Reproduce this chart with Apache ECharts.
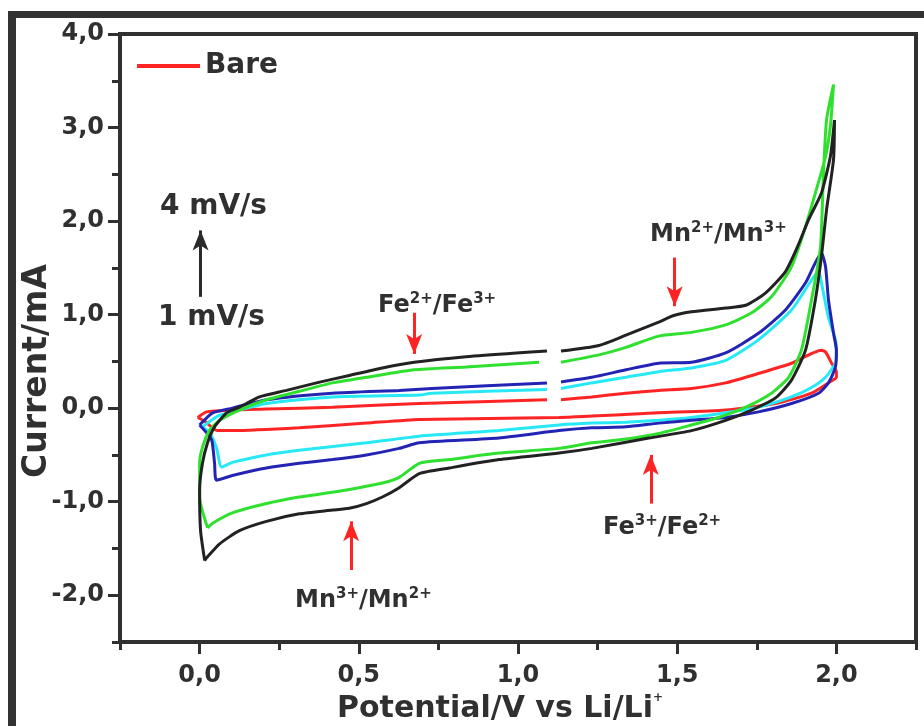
<!DOCTYPE html>
<html>
<head>
<meta charset="utf-8">
<script src="https://cdn.jsdelivr.net/npm/echarts@6/dist/echarts.min.js"></script>
<style>
  html, body { margin: 0; padding: 0; background: #ffffff; }
  #chart { width: 924px; height: 726px; }
</style>
</head>
<body>
<div id="chart"></div>
<script>
// Axis ticks (V vs Li/Li+, mA)
const xMajor = [0, 0.5, 1, 1.5, 2];
const xMinor = [-0.25, 0.25, 0.75, 1.25, 1.75, 2.25];
const yMajor = [-2, -1, 0, 1, 2, 3, 4];
const yMinor = [-2.5, -1.5, -0.5, 0.5, 1.5, 2.5, 3.5];

// Break in the recorded anodic sweep
const GAP = '-';

// Cyclic voltammograms, [potential V, current mA], traced around each loop
const bare = [
  [-0.006, -0.10], [0.022, -0.04], [0.103, -0.02], [0.210, -0.01], [0.417, 0.01],
  [0.690, 0.05], [1.091, 0.09], [1.11, GAP], [1.135, 0.09], [1.232, 0.12],
  [1.339, 0.16], [1.442, 0.19], [1.545, 0.21], [1.652, 0.27], [1.755, 0.37],
  [1.859, 0.48], [1.953, 0.62], [1.966, 0.60], [1.985, 0.48], [2.0, 0.39],
  [2.0, 0.33], [1.984, 0.29], [1.922, 0.16], [1.809, 0.05], [1.652, -0.02],
  [1.442, -0.05], [1.129, -0.10], [0.690, -0.12], [0.524, -0.16], [0.313, -0.21],
  [0.103, -0.24], [0.056, -0.24], [0.016, -0.14], [-0.006, -0.10]
];
const rate1 = [
  [0.009, -0.20], [0.060, -0.08], [0.125, -0.02], [0.210, 0.05], [0.417, 0.12],
  [0.690, 0.14], [0.730, 0.16], [1.091, 0.20], [1.11, GAP], [1.135, 0.21],
  [1.232, 0.27], [1.339, 0.33], [1.442, 0.39], [1.545, 0.43], [1.652, 0.51],
  [1.755, 0.73], [1.859, 1.05], [1.922, 1.37], [1.944, 1.46], [1.953, 1.34],
  [1.975, 0.97], [1.997, 0.73], [2.0, 0.59], [1.997, 0.48], [1.966, 0.33],
  [1.922, 0.22], [1.859, 0.12], [1.755, 0.01], [1.652, -0.05], [1.545, -0.10],
  [1.442, -0.13], [1.339, -0.15], [1.232, -0.16], [1.129, -0.18], [0.940, -0.24],
  [0.690, -0.30], [0.524, -0.37], [0.313, -0.45], [0.210, -0.50], [0.103, -0.58],
  [0.069, -0.63], [0.053, -0.42], [0.031, -0.26], [0.009, -0.20]
];
const rate2 = [
  [0.0, -0.18], [0.041, -0.05], [0.103, 0.0], [0.210, 0.09], [0.417, 0.16],
  [0.627, 0.19], [0.730, 0.21], [1.091, 0.27], [1.11, GAP], [1.135, 0.28],
  [1.232, 0.33], [1.339, 0.41], [1.442, 0.48], [1.545, 0.49], [1.652, 0.59],
  [1.755, 0.80], [1.840, 1.05], [1.903, 1.34], [1.953, 1.66], [1.966, 1.51],
  [1.975, 1.16], [1.991, 0.80], [2.0, 0.62], [1.997, 0.44], [1.975, 0.27],
  [1.944, 0.16], [1.859, 0.05], [1.755, -0.04], [1.652, -0.10], [1.545, -0.13],
  [1.442, -0.16], [1.339, -0.20], [1.232, -0.21], [1.129, -0.24], [0.940, -0.32],
  [0.690, -0.37], [0.627, -0.43], [0.524, -0.50], [0.417, -0.55], [0.313, -0.59],
  [0.210, -0.64], [0.103, -0.72], [0.053, -0.77], [0.047, -0.59], [0.038, -0.34],
  [0.016, -0.24], [0.0, -0.18]
];
const rate3 = [
  [0.025, -1.28], [0.0, -0.95], [0.0, -0.59], [0.009, -0.42], [0.031, -0.24],
  [0.063, -0.13], [0.125, -0.02], [0.210, 0.09], [0.313, 0.18], [0.417, 0.27],
  [0.524, 0.33], [0.674, 0.41], [0.837, 0.44], [1.066, 0.49], [1.10, GAP],
  [1.135, 0.49], [1.254, 0.57], [1.339, 0.65], [1.442, 0.77], [1.545, 0.81],
  [1.652, 0.89], [1.734, 1.02], [1.796, 1.19], [1.859, 1.51], [1.903, 1.94],
  [1.934, 2.30], [1.966, 2.69], [1.981, 3.01], [1.991, 3.46], [1.969, 3.08],
  [1.959, 2.47], [1.950, 1.72], [1.922, 1.16], [1.890, 0.62], [1.850, 0.33],
  [1.796, 0.16], [1.715, 0.01], [1.630, -0.10], [1.545, -0.18], [1.442, -0.27],
  [1.339, -0.33], [1.232, -0.37], [1.129, -0.43], [0.940, -0.48], [0.784, -0.55],
  [0.690, -0.59], [0.627, -0.74], [0.574, -0.80], [0.417, -0.90], [0.313, -0.95],
  [0.210, -1.02], [0.103, -1.12], [0.041, -1.23], [0.025, -1.28]
];
const rate4 = [
  [0.016, -1.63], [0.003, -1.31], [0.0, -0.88], [0.009, -0.59], [0.025, -0.37],
  [0.047, -0.20], [0.085, -0.05], [0.125, 0.01], [0.188, 0.12], [0.273, 0.19],
  [0.367, 0.27], [0.470, 0.35], [0.574, 0.43], [0.674, 0.49], [0.837, 0.55],
  [0.994, 0.59], [1.091, 0.61], [1.11, GAP], [1.135, 0.61], [1.254, 0.67],
  [1.339, 0.78], [1.442, 0.92], [1.489, 0.99], [1.545, 1.03], [1.652, 1.07],
  [1.715, 1.10], [1.777, 1.23], [1.840, 1.46], [1.881, 1.75], [1.912, 2.01],
  [1.953, 2.30], [1.981, 2.69], [1.994, 3.08], [1.991, 2.66], [1.969, 2.12],
  [1.953, 1.62], [1.934, 1.16], [1.903, 0.62], [1.859, 0.30], [1.809, 0.11],
  [1.734, -0.02], [1.652, -0.13], [1.545, -0.24], [1.411, -0.32], [1.232, -0.43],
  [1.129, -0.48], [0.940, -0.55], [0.784, -0.64], [0.690, -0.70], [0.627, -0.85],
  [0.574, -0.95], [0.524, -1.02], [0.470, -1.07], [0.417, -1.09], [0.313, -1.13],
  [0.210, -1.21], [0.125, -1.31], [0.063, -1.45], [0.022, -1.60], [0.016, -1.63]
];

// Peak / trend arrows: [potential, tail current, head current]
const arrowScan = [0.003, 1.19, 1.90];
const arrowFeOx = [0.674, 1.02, 0.58];
const arrowMnOx = [1.492, 1.61, 1.09];
const arrowFeRed = [1.417, -1.02, -0.50];
const arrowMnRed = [0.476, -1.73, -1.21];

const FONT = 'DejaVu Sans';
const INK = '#303030';
const RED = '#ff2424';
const fmt = v => v.toFixed(1).replace('.', ',');

function arrow(a, color) {
  return [
    { coord: [a[0], a[1]], symbol: 'none', lineStyle: { color: color, width: 3, type: 'solid' } },
    { coord: [a[0], a[2]], symbol: 'arrow', symbolSize: [12, 20] }
  ];
}

function curve(name, data, color, z) {
  return {
    name: name, type: 'line', data: data, color: color, z: z,
    showSymbol: false, connectNulls: false, smooth: 0.2,
    lineStyle: { width: 3, color: color }, silent: true
  };
}

const supRich = {
  b: { fontSize: 24, fontWeight: 'bold', fontFamily: FONT, fill: INK, color: INK, lineHeight: 28 },
  s: { fontSize: 15, fontWeight: 'bold', fontFamily: FONT, fill: INK, color: INK, verticalAlign: 'top', lineHeight: 28 }
};

function label(text, x, y, extra) {
  return {
    type: 'text', x: x, y: y, z: 50,
    style: Object.assign({
      text: text, fill: INK, font: 'bold 24px "DejaVu Sans"',
      textAlign: 'left', textVerticalAlign: 'middle', rich: supRich
    }, extra || {})
  };
}

const chart = echarts.init(document.getElementById('chart'), null, { renderer: 'canvas' });

const axisLineStyle = { color: INK, width: 4 };
const tickLabel = { fontSize: 24, fontWeight: 'bold', fontFamily: FONT, color: INK };

chart.setOption({
  animation: false,
  backgroundColor: '#ffffff',
  grid: { left: 120, right: 8, top: 34, bottom: 84, show: true, borderColor: INK, borderWidth: 4, backgroundColor: 'transparent' },
  legend: {
    data: [{ name: 'Bare', icon: 'rect' }],
    left: 137, top: 52, padding: 0, itemWidth: 63, itemHeight: 4,
    textStyle: { fontSize: 28, fontWeight: 'bold', fontFamily: FONT, color: INK },
    selectedMode: false
  },
  xAxis: [
    {
      type: 'value', min: -0.25, max: 2.25, position: 'bottom', offset: 0,
      axisLine: { onZero: false, lineStyle: axisLineStyle },
      axisTick: { customValues: xMajor, length: 12, inside: false, lineStyle: { color: INK, width: 3 } },
      axisLabel: Object.assign({ customValues: xMajor, formatter: fmt, margin: 22 }, tickLabel),
      splitLine: { show: false }
    },
    {
      type: 'value', min: -0.25, max: 2.25, position: 'bottom', offset: 0,
      axisLine: { show: false, onZero: false },
      axisTick: { customValues: xMinor, length: 8, inside: false, lineStyle: { color: INK, width: 3 } },
      axisLabel: { show: false }, splitLine: { show: false }
    }
  ],
  yAxis: [
    {
      type: 'value', min: -2.5, max: 4, position: 'left', offset: 0,
      axisLine: { onZero: false, lineStyle: axisLineStyle },
      axisTick: { customValues: yMajor, length: 12, inside: false, lineStyle: { color: INK, width: 3 } },
      axisLabel: Object.assign({ customValues: yMajor, formatter: fmt, margin: 16 }, tickLabel),
      splitLine: { show: false }
    },
    {
      type: 'value', min: -2.5, max: 4, position: 'left', offset: 0,
      axisLine: { show: false, onZero: false },
      axisTick: { customValues: yMinor, length: 8, inside: false, lineStyle: { color: INK, width: 3 } },
      axisLabel: { show: false }, splitLine: { show: false }
    }
  ],
  series: [
    curve('Bare', bare, RED, 2),
    curve('1 mV/s', rate1, '#27e8f5', 3),
    curve('2 mV/s', rate2, '#2424b4', 4),
    curve('3 mV/s', rate3, '#2fe02f', 5),
    Object.assign(curve('4 mV/s', rate4, '#222222', 6), {
      markLine: {
        silent: true, animation: false,
        label: { show: false },
        emphasis: { disabled: true },
        data: [
          arrow(arrowScan, '#2a2a2a'),
          arrow(arrowFeOx, RED),
          arrow(arrowMnOx, RED),
          arrow(arrowFeRed, RED),
          arrow(arrowMnRed, RED)
        ]
      }
    })
  ],
  graphic: [
    // outer figure frame
    { type: 'rect', shape: { x: 8, y: 11, width: 916, height: 7 }, style: { fill: '#333333' }, z: 60 },
    { type: 'rect', shape: { x: 8, y: 11, width: 8, height: 715 }, style: { fill: '#333333' }, z: 60 },
    // axis titles
    {
      type: 'text', x: 37, y: 371, rotation: Math.PI / 2, z: 50,
      style: { text: 'Current/mA', fill: INK, font: 'bold 33px "DejaVu Sans"', textAlign: 'center', textVerticalAlign: 'middle' }
    },
    {
      type: 'text', x: 500, y: 709, z: 50,
      style: {
        text: '{t|Potential/V vs Li/Li}{p|+}', fill: INK, textAlign: 'center', textVerticalAlign: 'middle',
        rich: {
          t: { fontSize: 30, fontWeight: 'bold', fontFamily: FONT, fill: INK, lineHeight: 34 },
          p: { fontSize: 12, fontWeight: 'bold', fontFamily: FONT, fill: INK, verticalAlign: 'top', lineHeight: 34 }
        }
      }
    },
    // scan-rate and redox annotations
    label('4 mV/s', 160, 207, { font: 'bold 28px "DejaVu Sans"' }),
    label('1 mV/s', 158, 318, { font: 'bold 28px "DejaVu Sans"' }),
    label('{b|Fe}{s|2+}{b|/Fe}{s|3+}', 378, 306),
    label('{b|Mn}{s|2+}{b|/Mn}{s|3+}', 650, 235),
    label('{b|Fe}{s|3+}{b|/Fe}{s|2+}', 603, 528),
    label('{b|Mn}{s|3+}{b|/Mn}{s|2+}', 295, 601)
  ]
});
</script>
</body>
</html>
